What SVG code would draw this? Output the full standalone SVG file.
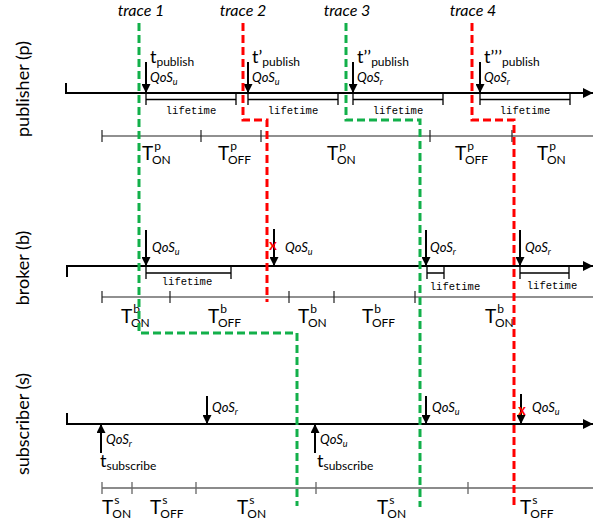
<svg xmlns="http://www.w3.org/2000/svg" width="602" height="529" viewBox="0 0 602 529">
<style>
.ax{stroke:#000;stroke-width:2;fill:none}
.ar{stroke:#000;stroke-width:2;fill:none}
.br{stroke:#000;stroke-width:1.3;fill:none}
.oo{stroke:#222;stroke-width:1.2;fill:none}
.os{stroke:#666;stroke-width:1.3;fill:none}
.tg{stroke:#12b04a;stroke-width:3;fill:none;stroke-dasharray:8 4}
.tr{stroke:#ff0000;stroke-width:3;fill:none;stroke-dasharray:8 4}
text{font-family:Lato,"Liberation Sans",sans-serif;fill:#000}
.lt{font-family:"Liberation Mono","DejaVu Sans Mono",monospace;font-size:10.5px;text-anchor:middle}
.q{font-style:italic;font-size:13px}
.qs{font-style:italic;font-size:9px}
.t{font-size:18px}
.ts{font-size:12px}
.T{font-size:19px}
.Ts{font-size:12px}
.lab{font-size:18px;text-anchor:middle}
.trl{font-size:16px;font-style:italic;text-anchor:middle}
.x{fill:#ff0000;font-weight:bold;font-size:15px;text-anchor:middle}
</style>
<defs>
<marker id="ah" viewBox="0 0 10 10" refX="10" refY="5" markerWidth="9" markerHeight="9" markerUnits="userSpaceOnUse" orient="auto"><path d="M0,0 L10,5 L0,10 z" fill="#000"/></marker>
<marker id="ahb" viewBox="0 0 10 10" refX="10" refY="5" markerWidth="11" markerHeight="10" markerUnits="userSpaceOnUse" orient="auto"><path d="M0,0 L10,5 L0,10 z" fill="#000"/></marker>
</defs>

<g id="trace-labels">
<text class="trl" x="141" y="16">trace 1</text>
<text class="trl" x="243" y="16">trace 2</text>
<text class="trl" x="347" y="16">trace 3</text>
<text class="trl" x="473" y="16">trace 4</text>
</g>

<g id="publisher">
<text class="lab" transform="translate(29,89) rotate(-90)">publisher (p)</text>
<line class="ax" x1="65" y1="93" x2="593" y2="93" marker-end="url(#ahb)"/>
<line class="ax" x1="66" y1="83" x2="66" y2="93"/>
<line class="ar" x1="146" y1="62" x2="146" y2="93" marker-end="url(#ah)"/>
<line class="ar" x1="248" y1="62" x2="248" y2="93" marker-end="url(#ah)"/>
<line class="ar" x1="353" y1="62" x2="353" y2="93" marker-end="url(#ah)"/>
<line class="ar" x1="480" y1="62" x2="480" y2="93" marker-end="url(#ah)"/>
<text x="150" y="63"><tspan class="t">t</tspan><tspan class="ts" dy="3">publish</tspan></text>
<text x="252" y="63"><tspan class="t">t’</tspan><tspan class="ts" dy="3">publish</tspan></text>
<text x="357" y="63"><tspan class="t">t’’</tspan><tspan class="ts" dy="3">publish</tspan></text>
<text x="484" y="63"><tspan class="t">t’’’</tspan><tspan class="ts" dy="3">publish</tspan></text>
<text x="150" y="82"><tspan class="q">QoS</tspan><tspan class="qs" dy="3">u</tspan></text>
<text x="252" y="82"><tspan class="q">QoS</tspan><tspan class="qs" dy="3">u</tspan></text>
<text x="357" y="82"><tspan class="q">QoS</tspan><tspan class="qs" dy="3">r</tspan></text>
<text x="484" y="82"><tspan class="q">QoS</tspan><tspan class="qs" dy="3">r</tspan></text>
<path class="br" d="M146,94V105M146,99.5H236M236,94V105"/>
<path class="br" d="M248,94V105M248,99.5H338M338,94V105"/>
<path class="br" d="M353,94V105M353,99.5H443M443,94V105"/>
<path class="br" d="M480,94V105M480,99.5H570M570,94V105"/>
<text class="lt" x="191" y="114">lifetime</text>
<text class="lt" x="293" y="114">lifetime</text>
<text class="lt" x="398" y="114">lifetime</text>
<text class="lt" x="525" y="114">lifetime</text>
<path class="oo" d="M102,136H593M102,130V142M201,130V142M261,130V142M430,130V142M512,130V142"/>
<text class="T" x="142" y="160">T<tspan class="Ts" dx="1" dy="-10">p</tspan><tspan class="Ts" dx="-9" dy="14">ON</tspan></text>
<text class="T" x="218" y="160">T<tspan class="Ts" dx="1" dy="-10">p</tspan><tspan class="Ts" dx="-9" dy="14">OFF</tspan></text>
<text class="T" x="327" y="160">T<tspan class="Ts" dx="1" dy="-10">p</tspan><tspan class="Ts" dx="-9" dy="14">ON</tspan></text>
<text class="T" x="455" y="160">T<tspan class="Ts" dx="1" dy="-10">p</tspan><tspan class="Ts" dx="-9" dy="14">OFF</tspan></text>
<text class="T" x="537" y="160">T<tspan class="Ts" dx="1" dy="-10">p</tspan><tspan class="Ts" dx="-9" dy="14">ON</tspan></text>
</g>

<g id="broker">
<text class="lab" transform="translate(29,268) rotate(-90)">broker (b)</text>
<line class="ax" x1="66" y1="266" x2="593" y2="266" marker-end="url(#ahb)"/>
<line class="ax" x1="67" y1="266" x2="67" y2="277"/>
<line class="ar" x1="146" y1="230" x2="146" y2="266" marker-end="url(#ah)"/>
<line class="ar" x1="274" y1="229" x2="274" y2="266" marker-end="url(#ah)"/>
<line class="ar" x1="426" y1="230" x2="426" y2="266" marker-end="url(#ah)"/>
<line class="ar" x1="520" y1="230" x2="520" y2="266" marker-end="url(#ah)"/>
<text class="x" x="273" y="250">x</text>
<text x="152" y="252"><tspan class="q">QoS</tspan><tspan class="qs" dy="3">u</tspan></text>
<text x="285" y="252"><tspan class="q">QoS</tspan><tspan class="qs" dy="3">u</tspan></text>
<text x="430" y="252"><tspan class="q">QoS</tspan><tspan class="qs" dy="3">r</tspan></text>
<text x="525" y="252"><tspan class="q">QoS</tspan><tspan class="qs" dy="3">r</tspan></text>
<path class="br" d="M146,267V279M146,273H231M231,267V279"/>
<path class="br" d="M427,267V279M427,273H444M444,267V279"/>
<path class="br" d="M520,267V279M520,273H569M569,267V279"/>
<text class="lt" x="187" y="285">lifetime</text>
<text class="lt" x="455" y="290">lifetime</text>
<text class="lt" x="552" y="289">lifetime</text>
<path class="oo" d="M102,297H593M102,291V303M170,291V303M289,291V303M334,291V303M415,291V303"/>
<text class="T" x="121" y="323">T<tspan class="Ts" dx="1" dy="-10">b</tspan><tspan class="Ts" dx="-9" dy="14">ON</tspan></text>
<text class="T" x="208" y="323">T<tspan class="Ts" dx="1" dy="-10">b</tspan><tspan class="Ts" dx="-9" dy="14">OFF</tspan></text>
<text class="T" x="298" y="323">T<tspan class="Ts" dx="1" dy="-10">b</tspan><tspan class="Ts" dx="-9" dy="14">ON</tspan></text>
<text class="T" x="362" y="323">T<tspan class="Ts" dx="1" dy="-10">b</tspan><tspan class="Ts" dx="-9" dy="14">OFF</tspan></text>
<text class="T" x="485" y="323">T<tspan class="Ts" dx="1" dy="-10">b</tspan><tspan class="Ts" dx="-9" dy="14">ON</tspan></text>
</g>

<g id="subscriber">
<text class="lab" transform="translate(29,424) rotate(-90)">subscriber (s)</text>
<line class="ax" x1="66" y1="424" x2="593" y2="424" marker-end="url(#ahb)"/>
<line class="ax" x1="67" y1="413" x2="67" y2="424"/>
<line class="ar" x1="101" y1="453" x2="101" y2="424" marker-end="url(#ah)"/>
<line class="ar" x1="207" y1="396" x2="207" y2="424" marker-end="url(#ah)"/>
<line class="ar" x1="315" y1="453" x2="315" y2="424" marker-end="url(#ah)"/>
<line class="ar" x1="426" y1="396" x2="426" y2="424" marker-end="url(#ah)"/>
<line class="ar" x1="521" y1="394" x2="521" y2="424" marker-end="url(#ah)"/>
<text class="x" x="522" y="415">x</text>
<text x="106" y="444"><tspan class="q">QoS</tspan><tspan class="qs" dy="3">r</tspan></text>
<text x="212" y="412"><tspan class="q">QoS</tspan><tspan class="qs" dy="3">r</tspan></text>
<text x="320" y="444"><tspan class="q">QoS</tspan><tspan class="qs" dy="3">u</tspan></text>
<text x="432" y="412"><tspan class="q">QoS</tspan><tspan class="qs" dy="3">u</tspan></text>
<text x="532" y="412"><tspan class="q">QoS</tspan><tspan class="qs" dy="3">u</tspan></text>
<text x="100" y="467"><tspan class="t">t</tspan><tspan class="ts" dy="3">subscribe</tspan></text>
<text x="317" y="467"><tspan class="t">t</tspan><tspan class="ts" dy="3">subscribe</tspan></text>
<path class="os" d="M102,488H593M102,482V494M132,482V494M196,482V494M316,482V494M468,482V494"/>
<text class="T" x="102" y="514">T<tspan class="Ts" dx="1" dy="-10">s</tspan><tspan class="Ts" dx="-7" dy="14">ON</tspan></text>
<text class="T" x="150" y="514">T<tspan class="Ts" dx="1" dy="-10">s</tspan><tspan class="Ts" dx="-7" dy="14">OFF</tspan></text>
<text class="T" x="237" y="514">T<tspan class="Ts" dx="1" dy="-10">s</tspan><tspan class="Ts" dx="-7" dy="14">ON</tspan></text>
<text class="T" x="377" y="514">T<tspan class="Ts" dx="1" dy="-10">s</tspan><tspan class="Ts" dx="-7" dy="14">ON</tspan></text>
<text class="T" x="520" y="514">T<tspan class="Ts" dx="1" dy="-10">s</tspan><tspan class="Ts" dx="-7" dy="14">OFF</tspan></text>
</g>

<g id="connectors">
<path class="tg" d="M139,23V333H297V506"/>
<path class="tr" d="M243,23V120H267V302"/>
<path class="tg" d="M346,23V120H420V507"/>
<path class="tr" d="M472,23V120H514V507"/>
</g>
</svg>
